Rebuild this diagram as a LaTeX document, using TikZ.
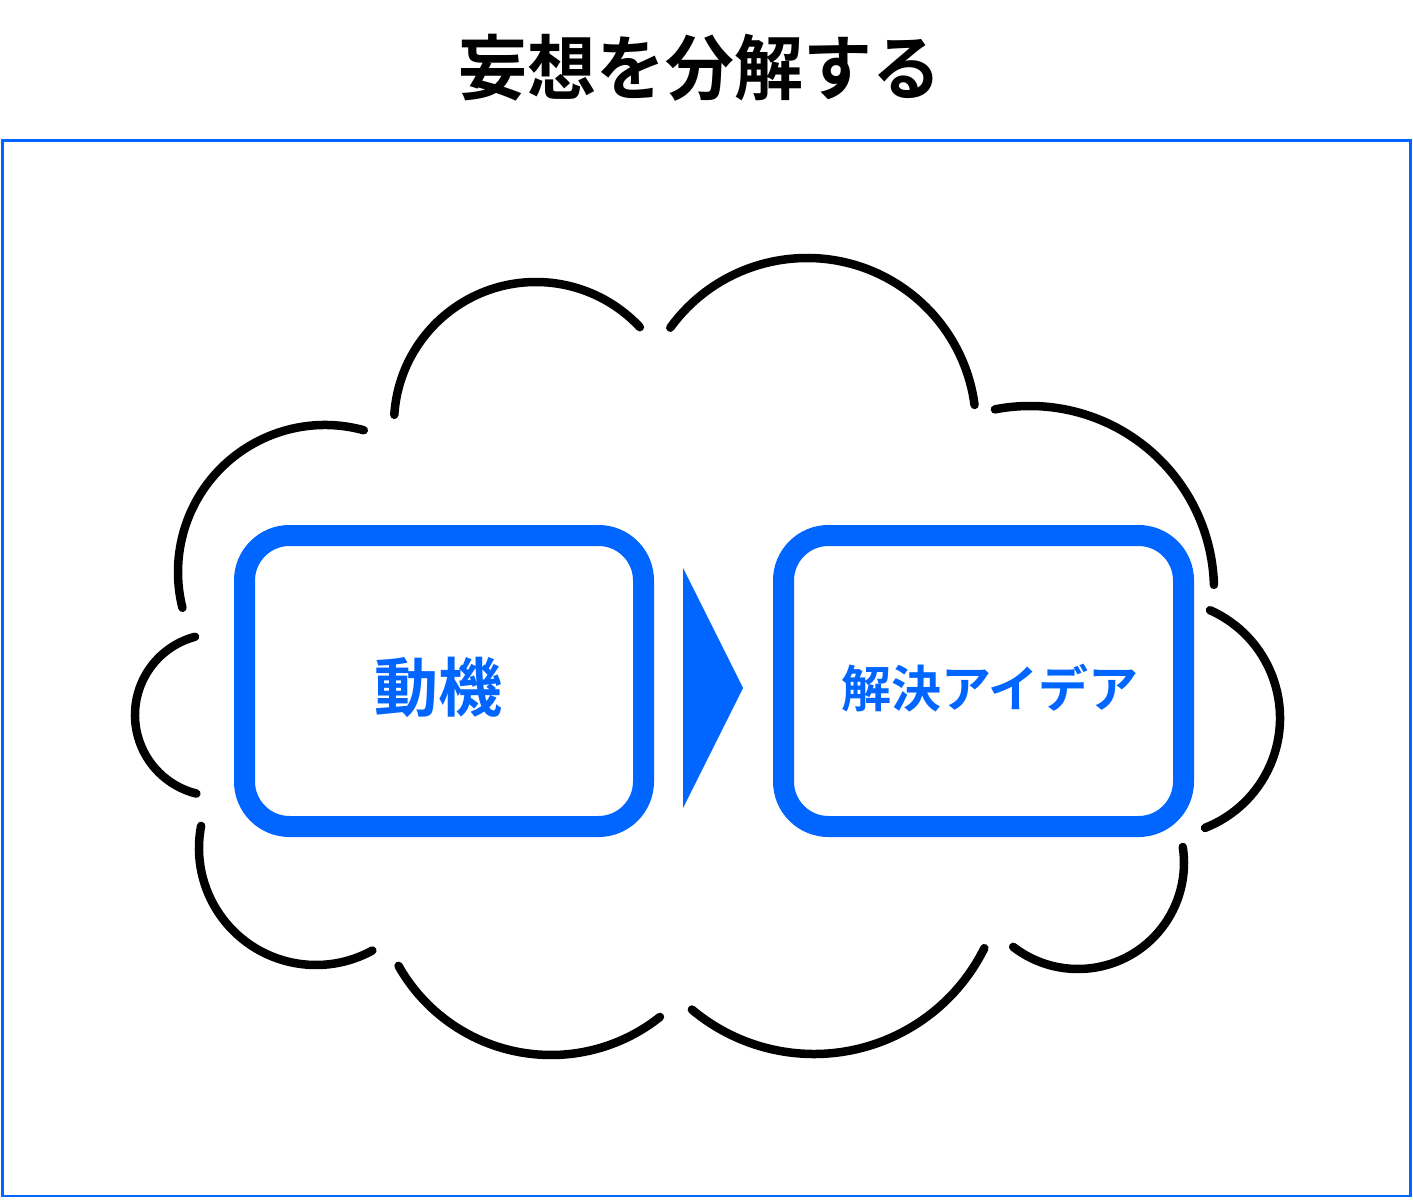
\documentclass[tikz,border=0pt]{standalone}
\usepackage{fontspec}
\newfontfamily\cjk{Noto Sans CJK JP}[BoldFont=* Bold]
\definecolor{accent}{HTML}{0066FF}
\tikzset{
  cloudarc/.style={draw=black,line width=8.5pt,line cap=round},
  ideabox/.style={draw=accent,line width=21pt,rounded corners=45pt},
  boxlabel/.style={text=accent,font=\cjk\bfseries,inner sep=0pt},
  frameline/.style={draw=accent,line width=2.5pt},
}
\begin{document}
\begin{tikzpicture}[x=1pt,y=-1pt]
\useasboundingbox (0,0) rectangle (1413,1199);
\fill[white] (0,0) rectangle (1413,1199);
% title
\node[font=\cjk\bfseries\fontsize{71}{71}\selectfont,inner sep=0pt,xscale=0.97] (title) at (700,68) {妄想を分解する};
% frame
\draw[frameline] (2.5,140.5) rectangle (1410.5,1196);
% cloud arcs (centre, radius, start, end)
\draw[cloudarc] (536,424) ++(183.7:142) arc[start angle=183.7,end angle=317,radius=142];
\draw[cloudarc] (807,427) ++(216:169) arc[start angle=216,end angle=352.5,radius=169];
\draw[cloudarc] (1030,590) ++(259:184) arc[start angle=259,end angle=358.4,radius=184];
\draw[cloudarc] (1162,718) ++(-66:118) arc[start angle=-66,end angle=68.6,radius=118];
\draw[cloudarc] (1078,863) ++(127.7:106) arc[start angle=127.7,end angle=-8.7,radius=106];
\draw[cloudarc] (814,864) ++(130:190) arc[start angle=130,end angle=26.3,radius=190];
\draw[cloudarc] (551,880) ++(150.6:175) arc[start angle=150.6,end angle=51.5,radius=175];
\draw[cloudarc] (316,848) ++(190.9:117) arc[start angle=190.9,end angle=61.2,radius=117];
\draw[cloudarc] (216,715) ++(255:81) arc[start angle=255,end angle=104,radius=81];
\draw[cloudarc] (325,572) ++(285.3:147) arc[start angle=285.3,end angle=165.9,radius=147];
% boxes
\draw[ideabox] (244.5,535.5) rectangle (643.5,826.5);
\draw[ideabox] (783.5,535.5) rectangle (1183.5,826.5);
\node[boxlabel,font=\cjk\bfseries\fontsize{64}{64}\selectfont] (motive) at (438,687) {動機};
\node[boxlabel,font=\cjk\bfseries\fontsize{50}{50}\selectfont] (idea) at (990,688) {解決アイデア};
% arrow
\coordinate (ta) at (683,568);
\coordinate (tb) at (743,688);
\coordinate (tc) at (683,808);
\fill[accent] (ta) -- (tb) -- (tc) -- cycle;
\end{tikzpicture}
\end{document}
